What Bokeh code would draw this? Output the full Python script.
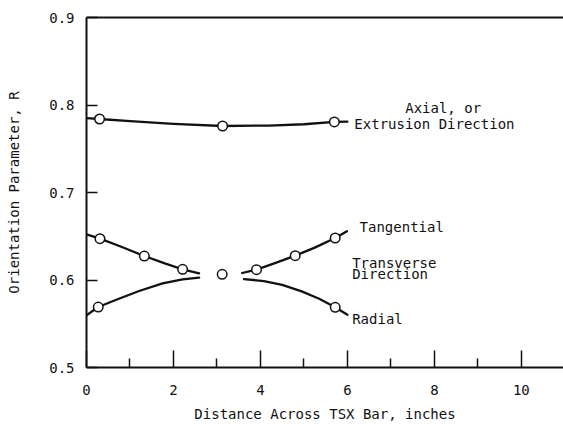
from bokeh.plotting import figure
from bokeh.models import Range1d, LinearAxis, FixedTicker
from bokeh.core.properties import value
from bokeh.embed import file_html
from bokeh.resources import INLINE

FONT = "DejaVu Sans Mono"
INK = "#111111"
FS = "14px"

# ---- data ----
x_ticks = [0, 2, 4, 6, 8, 10]
x_minor = [1, 3, 5, 7, 9]
y_ticks = [0.5, 0.6, 0.7, 0.8, 0.9]

# Axial, or extrusion direction
axial_pts_x = [0.30, 3.13, 5.70]
axial_pts_y = [0.784, 0.776, 0.7806]
axial_curve_x = [0.0, 0.30, 1.0, 2.0, 3.13, 4.2, 5.0, 5.70, 6.0]
axial_curve_y = [0.785, 0.784, 0.7815, 0.7785, 0.776, 0.7765, 0.778, 0.7806, 0.781]

# Tangential (transverse)
tang_pts_x = [0.31, 1.33, 2.21, 3.91, 4.80, 5.72]
tang_pts_y = [0.6472, 0.6274, 0.6122, 0.6118, 0.6278, 0.648]
tang_left_x = [0.0, 0.31, 0.8, 1.33, 1.8, 2.21, 2.59]
tang_left_y = [0.6522, 0.6472, 0.638, 0.6274, 0.619, 0.6122, 0.6077]
tang_right_x = [3.58, 3.91, 4.35, 4.80, 5.25, 5.72, 5.99]
tang_right_y = [0.608, 0.6118, 0.6195, 0.6278, 0.637, 0.648, 0.6557]

# Radial (transverse)
rad_pts_x = [0.27, 5.72]
rad_pts_y = [0.5691, 0.5688]
rad_left_x = [0.0, 0.27, 0.67, 1.21, 1.75, 2.21, 2.59]
rad_left_y = [0.5597, 0.5691, 0.5771, 0.5874, 0.5962, 0.6008, 0.6027]
rad_right_x = [3.62, 4.08, 4.50, 4.95, 5.35, 5.72, 6.0]
rad_right_y = [0.6011, 0.5988, 0.5944, 0.5870, 0.5785, 0.5688, 0.5603]

# Centre point
mid_x = [3.12]
mid_y = [0.6065]

# annotations
note_text = ["Axial, or", "Extrusion Direction", "Tangential", "Transverse", "Direction", "Radial"]
note_x = [7.33, 6.16, 6.28, 6.11, 6.11, 6.11]
note_y = [0.7966, 0.7786, 0.6606, 0.6198, 0.6065, 0.5558]

p = figure(width=563, height=424, output_backend="svg", toolbar_location=None,
           x_range=Range1d(0, 10.97), y_range=Range1d(0.5, 0.9),
           min_border_left=86, min_border_right=0, min_border_top=17, min_border_bottom=57,
           background_fill_color="white", border_fill_color="white")
p.outline_line_color = None
p.grid.visible = False

xa = p.xaxis[0]
xa.ticker = FixedTicker(ticks=x_ticks, minor_ticks=x_minor)
xa.major_tick_in = 17
xa.major_tick_out = 0
xa.minor_tick_in = 9
xa.minor_tick_out = 0
xa.axis_line_width = 2
xa.major_tick_line_width = 1.5
xa.minor_tick_line_width = 1.5
xa.axis_label = "Distance Across TSX Bar, inches"

ya = p.yaxis[0]
ya.ticker = FixedTicker(ticks=y_ticks, minor_ticks=[])
ya.major_tick_in = 11
ya.major_tick_out = 0
ya.minor_tick_in = 0
ya.minor_tick_out = 0
ya.axis_line_width = 2
ya.major_tick_line_width = 1.5
ya.axis_label = "Orientation Parameter, R"

for ax in (xa, ya):
    ax.axis_line_color = INK
    ax.major_tick_line_color = INK
    ax.minor_tick_line_color = INK
    ax.major_label_text_font = FONT
    ax.major_label_text_font_size = FS
    ax.major_label_text_color = INK
    ax.axis_label_text_font = FONT
    ax.axis_label_text_font_size = FS
    ax.axis_label_text_font_style = "normal"
    ax.axis_label_text_color = INK

xa.major_label_standoff = 17
xa.axis_label_standoff = 8
ya.major_label_standoff = 12
ya.axis_label_standoff = 24

top = LinearAxis(ticker=FixedTicker(ticks=[]), axis_line_width=2, axis_line_color=INK,
                 major_tick_in=0, major_tick_out=0, minor_tick_in=0, minor_tick_out=0,
                 major_label_text_font_size="0px")
p.add_layout(top, "above")

lw = 2.3
for cx, cy in [(axial_curve_x, axial_curve_y), (tang_left_x, tang_left_y),
               (tang_right_x, tang_right_y), (rad_left_x, rad_left_y),
               (rad_right_x, rad_right_y)]:
    p.line(cx, cy, line_color=INK, line_width=lw, line_join="round", line_cap="round")

for px, py in [(axial_pts_x, axial_pts_y), (tang_pts_x, tang_pts_y),
               (rad_pts_x, rad_pts_y), (mid_x, mid_y)]:
    p.scatter(px, py, size=9.5, marker="circle", fill_color="white",
              line_color=INK, line_width=1.5)

p.text(x=note_x, y=note_y, text=note_text, text_font=value(FONT),
       text_font_size=FS, text_color=INK, text_baseline="middle", text_align="left")

open("out.html", "w").write(file_html(p, INLINE))
